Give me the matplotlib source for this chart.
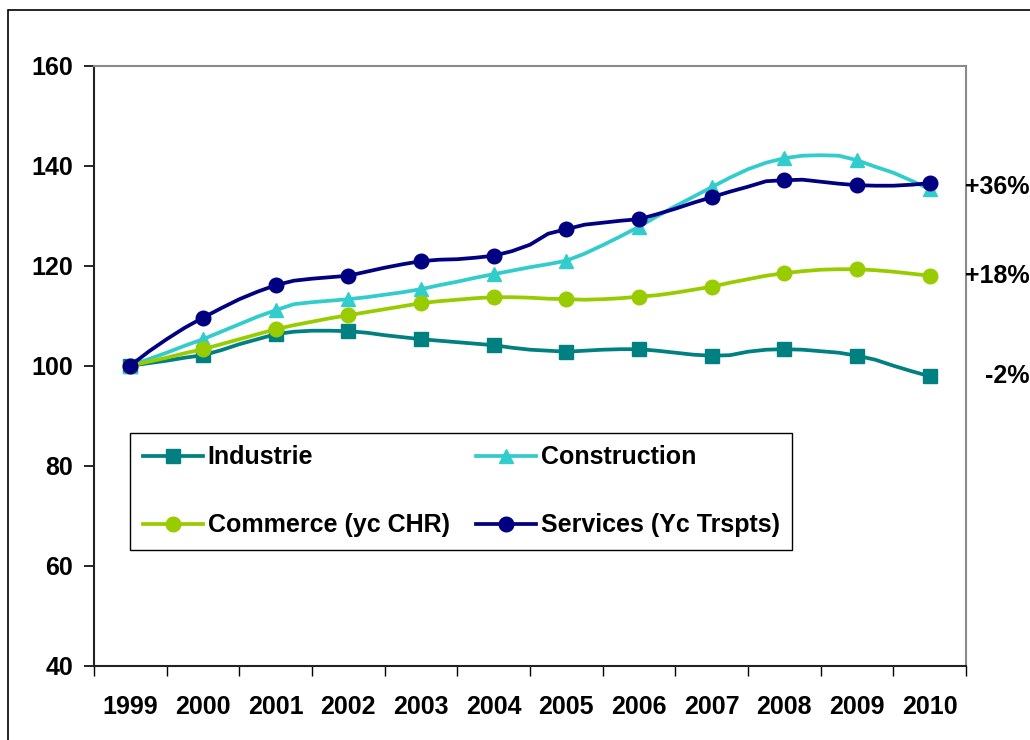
import matplotlib
matplotlib.use("Agg")
import matplotlib.pyplot as plt
from matplotlib.patches import Rectangle
import numpy as np

# ---- data (quarterly index values, base 1999 = 100) ----
years = ["1999", "2000", "2001", "2002", "2003", "2004",
         "2005", "2006", "2007", "2008", "2009", "2010"]

industrie = [100.0, 100.5, 101.0, 101.6,
             102.1, 103.1, 104.3, 105.3,
             106.3, 106.8, 107.0, 107.0,
             106.9, 106.6, 106.1, 105.7,
             105.3, 105.0, 104.7, 104.4,
             104.1, 103.6, 103.2, 103.0,
             102.8, 103.0, 103.2, 103.3,
             103.3, 103.0, 102.6, 102.2,
             102.0, 102.1, 102.8, 103.2,
             103.3, 103.2, 102.9, 102.6,
             102.0, 101.2, 100.0, 98.9,
             97.9]

construction = [100.0, 101.3, 102.6, 104.0,
                105.3, 106.8, 108.3, 109.8,
                111.1, 112.3, 112.7, 113.0,
                113.3, 113.7, 114.2, 114.7,
                115.3, 116.1, 116.8, 117.6,
                118.3, 119.0, 119.7, 120.3,
                121.0, 122.4, 124.1, 125.9,
                127.8, 129.9, 131.9, 133.8,
                135.7, 137.6, 139.3, 140.6,
                141.5, 142.0, 142.1, 142.0,
                141.1, 139.8, 138.6, 137.0,
                135.3]

commerce = [100.0, 100.8, 101.6, 102.5,
            103.3, 104.3, 105.3, 106.3,
            107.3, 108.1, 108.8, 109.5,
            110.1, 110.7, 111.3, 111.9,
            112.5, 112.9, 113.2, 113.5,
            113.7, 113.7, 113.6, 113.4,
            113.3, 113.2, 113.3, 113.5,
            113.8, 114.1, 114.6, 115.2,
            115.8, 116.6, 117.3, 118.0,
            118.5, 118.9, 119.2, 119.3,
            119.3, 119.1, 118.8, 118.4,
            118.0]

services = [100.0, 102.8, 105.3, 107.6,
            109.6, 111.5, 113.3, 114.8,
            116.1, 117.0, 117.4, 117.7,
            118.0, 118.8, 119.6, 120.3,
            120.9, 121.2, 121.3, 121.6,
            122.0, 122.9, 124.2, 126.4,
            127.3, 128.2, 128.6, 129.0,
            129.3, 130.3, 131.4, 132.6,
            133.7, 134.8, 135.8, 136.9,
            137.1, 137.2, 136.8, 136.4,
            136.1, 136.0, 136.0, 136.2,
            136.5]

labels = ["Industrie", "Construction", "Commerce (yc CHR)", "Services (Yc Trspts)"]
colors = ["#008080", "#33CCCC", "#99CC00", "#000080"]
markers = ["s", "^", "o", "o"]
end_labels = ["-2%", "+36%", "+18%"]
end_values = [98.0, 135.8, 118.0]

# ---- figure ----
plt.rcParams['font.family'] = ['Liberation Sans', 'DejaVu Sans']
FS = 18
W, H = 1030, 740
fig = plt.figure(figsize=(W / 100, H / 100), dpi=100)
ax = fig.add_axes([94 / W, 1 - 665.7 / H, (966 - 94) / W, (665.7 - 65.7) / H])

series = [industrie, construction, commerce, services]
msizes = [9.5, 10.5, 10.5, 10.5]
handles = []
for vals, lab, col, mk, ms in zip(series, labels, colors, markers, msizes):
    x = np.arange(len(vals)) / 4.0
    h, = ax.plot(x, vals, color=col, lw=2.7, marker=mk, markersize=ms,
                 markevery=4, label=lab, solid_joinstyle='round')
    handles.append(h)

ax.set_xlim(-0.5, len(years) - 0.5)
ax.set_ylim(40, 160)
ax.set_yticks(np.arange(40, 161, 20))
ax.set_yticklabels([str(v) for v in range(40, 161, 20)],
                   fontsize=FS, fontweight='bold')
ax.tick_params(axis='y', direction='out', length=7, width=1.2, pad=8)

ax.set_xticks(np.arange(-0.5, len(years)), minor=False)
ax.set_xticklabels([])
ax.tick_params(axis='x', which='major', direction='out', length=7, width=1.0)
ax.set_xticks(np.arange(len(years)), minor=True)
ax.set_xticklabels(years, minor=True, fontsize=FS, fontweight='bold')
ax.tick_params(axis='x', which='minor', length=0, pad=21)

for s in ['left', 'bottom']:
    ax.spines[s].set_color('#222222')
    ax.spines[s].set_linewidth(1.5)
for s in ['top', 'right']:
    ax.spines[s].set_color('#8a8a8a')
    ax.spines[s].set_linewidth(1.5)

# end labels at the right
for txt, v in zip(end_labels, end_values):
    ax.annotate(txt, xy=(1030 / W, v), xycoords=('figure fraction', 'data'),
                ha='right', va='center', fontsize=FS, fontweight='bold',
                annotation_clip=False)

# legend laid out row by row: (Industrie, Construction) / (Commerce, Services)
order = [0, 2, 1, 3]
leg = ax.legend([handles[i] for i in order], [labels[i] for i in order],
                ncol=2, loc='upper left',
                bbox_to_anchor=(130 / W, 1 - 433 / H),
                bbox_transform=fig.transFigure,
                prop={'size': FS, 'weight': 'bold'},
                frameon=True, fancybox=False, framealpha=1,
                edgecolor='black', borderpad=0.5,
                handlelength=2.4, handletextpad=0.2,
                columnspacing=1.05, labelspacing=1.75,
                borderaxespad=0)
leg.get_frame().set_linewidth(1.0)

# outer frame of the chart area (partly cropped in the reference)
fig.patches.append(Rectangle((8 / W, -0.2), 1.5, 1.2 - 10 / H,
                             transform=fig.transFigure, fill=False,
                             edgecolor='black', linewidth=1.2,
                             clip_on=False))

fig.savefig("out.png", dpi=100)
